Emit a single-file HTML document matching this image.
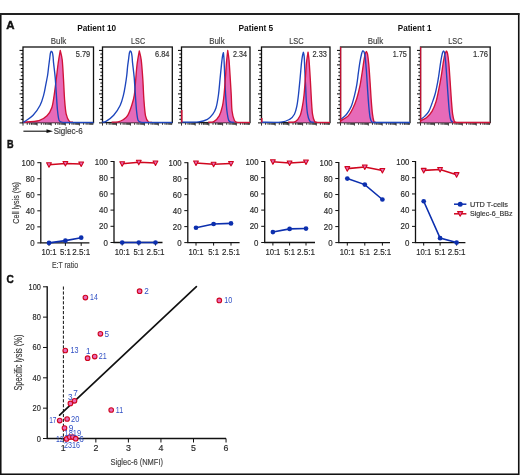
<!DOCTYPE html>
<html><head><meta charset="utf-8"><style>
html,body{margin:0;padding:0;background:#fff;}
body{width:520px;height:475px;overflow:hidden;}
svg{display:block;font-family:"Liberation Sans", sans-serif;will-change:transform;}
</style></head><body>
<svg width="520" height="475" viewBox="0 0 520 475">
<rect x="0.75" y="14" width="518" height="460.25" fill="none" stroke="#111" stroke-width="1.6"/>
<line x1="0" y1="14" x2="519.5" y2="14" stroke="#222" stroke-width="2"/>
<text x="6.3" y="29.1" font-size="11.8" text-anchor="start" fill="#111" font-weight="bold" textLength="8.3" lengthAdjust="spacingAndGlyphs" stroke="#111" stroke-width="0.45">A</text>
<text x="6.9" y="147.6" font-size="11.4" text-anchor="start" fill="#111" font-weight="bold" textLength="6.6" lengthAdjust="spacingAndGlyphs" stroke="#111" stroke-width="0.45">B</text>
<text x="6.4" y="282.5" font-size="11.8" text-anchor="start" fill="#111" font-weight="bold" textLength="7.3" lengthAdjust="spacingAndGlyphs" stroke="#111" stroke-width="0.45">C</text>
<text x="77.2" y="31.3" font-size="8.3" text-anchor="start" fill="#111" font-weight="bold" textLength="38.9" lengthAdjust="spacingAndGlyphs">Patient 10</text>
<text x="238.5" y="31.3" font-size="8.3" text-anchor="start" fill="#111" font-weight="bold" textLength="34.7" lengthAdjust="spacingAndGlyphs">Patient 5</text>
<text x="397.8" y="31.3" font-size="8.3" text-anchor="start" fill="#111" font-weight="bold" textLength="33.6" lengthAdjust="spacingAndGlyphs">Patient 1</text>
<text x="50.8" y="43.9" font-size="8.9" text-anchor="start" fill="#444" font-weight="normal" textLength="15.4" lengthAdjust="spacingAndGlyphs" stroke="#444" stroke-width="0.18">Bulk</text>
<text x="131.1" y="43.9" font-size="8.9" text-anchor="start" fill="#444" font-weight="normal" textLength="14.0" lengthAdjust="spacingAndGlyphs" stroke="#444" stroke-width="0.18">LSC</text>
<text x="209.2" y="43.9" font-size="8.9" text-anchor="start" fill="#444" font-weight="normal" textLength="15.4" lengthAdjust="spacingAndGlyphs" stroke="#444" stroke-width="0.18">Bulk</text>
<text x="289.2" y="43.9" font-size="8.9" text-anchor="start" fill="#444" font-weight="normal" textLength="14.5" lengthAdjust="spacingAndGlyphs" stroke="#444" stroke-width="0.18">LSC</text>
<text x="367.7" y="43.9" font-size="8.9" text-anchor="start" fill="#444" font-weight="normal" textLength="15.4" lengthAdjust="spacingAndGlyphs" stroke="#444" stroke-width="0.18">Bulk</text>
<text x="448.3" y="43.9" font-size="8.9" text-anchor="start" fill="#444" font-weight="normal" textLength="14.2" lengthAdjust="spacingAndGlyphs" stroke="#444" stroke-width="0.18">LSC</text>
<rect x="23" y="47.0" width="70.5" height="75.6" fill="none" stroke="#111" stroke-width="1.3"/>
<path d="M19.50,50.40H23M20.80,54.02H23M20.80,57.65H23M20.80,61.27H23M19.50,64.90H23M20.80,68.53H23M20.80,72.15H23M20.80,75.78H23M19.50,79.40H23M20.80,83.03H23M20.80,86.65H23M20.80,90.28H23M19.50,93.90H23M20.80,97.53H23M20.80,101.15H23M20.80,104.78H23M19.50,108.40H23M20.80,112.03H23M20.80,115.65H23M20.80,119.28H23M19.50,122.90H23" stroke="#000" stroke-width="1.0" fill="none"/>
<path d="M23.00,122.6V125.60M27.24,122.6V124.80M29.73,122.6V124.80M31.49,122.6V124.80M32.86,122.6V124.80M33.97,122.6V124.80M34.92,122.6V124.80M35.73,122.6V124.80M36.45,122.6V124.80M37.10,122.6V125.60M41.34,122.6V124.80M43.83,122.6V124.80M45.59,122.6V124.80M46.96,122.6V124.80M48.07,122.6V124.80M49.02,122.6V124.80M49.83,122.6V124.80M50.55,122.6V124.80M51.20,122.6V125.60M55.44,122.6V124.80M57.93,122.6V124.80M59.69,122.6V124.80M61.06,122.6V124.80M62.17,122.6V124.80M63.12,122.6V124.80M63.93,122.6V124.80M64.65,122.6V124.80M65.30,122.6V125.60M69.54,122.6V124.80M72.03,122.6V124.80M73.79,122.6V124.80M75.16,122.6V124.80M76.27,122.6V124.80M77.22,122.6V124.80M78.03,122.6V124.80M78.75,122.6V124.80M79.40,122.6V125.60M83.64,122.6V124.80M86.13,122.6V124.80M87.89,122.6V124.80M89.26,122.6V124.80M90.37,122.6V124.80M91.32,122.6V124.80M92.13,122.6V124.80M92.85,122.6V124.80" stroke="#333" stroke-width="1.0" fill="none"/>
<path d="M23.00,122.20 C25.67,121.93 35.00,121.67 39.00,120.60 C43.00,119.53 44.87,117.93 47.00,115.80 C49.13,113.67 50.60,111.27 51.80,107.80 C53.00,104.33 53.45,99.80 54.20,95.00 C54.95,90.20 55.61,84.33 56.28,79.00 C56.95,73.67 57.53,67.75 58.20,63.00 C58.87,58.25 59.93,52.60 60.28,50.52 C60.60,52.07 61.67,55.05 62.20,59.80 C62.73,64.55 63.08,72.33 63.48,79.00 C63.88,85.67 64.15,93.93 64.60,99.80 C65.05,105.67 65.40,110.60 66.20,114.20 C67.00,117.80 68.28,120.07 69.40,121.40 C70.52,122.73 72.33,122.07 72.92,122.20 L72.92,122.5 L23.00,122.5 Z" fill="#e76ab8" stroke="none"/>
<path d="M23.00,122.20 C25.67,121.93 35.00,121.67 39.00,120.60 C43.00,119.53 44.87,117.93 47.00,115.80 C49.13,113.67 50.60,111.27 51.80,107.80 C53.00,104.33 53.45,99.80 54.20,95.00 C54.95,90.20 55.61,84.33 56.28,79.00 C56.95,73.67 57.53,67.75 58.20,63.00 C58.87,58.25 59.93,52.60 60.28,50.52 C60.60,52.07 61.67,55.05 62.20,59.80 C62.73,64.55 63.08,72.33 63.48,79.00 C63.88,85.67 64.15,93.93 64.60,99.80 C65.05,105.67 65.40,110.60 66.20,114.20 C67.00,117.80 68.28,120.07 69.40,121.40 C70.52,122.73 72.33,122.07 72.92,122.20" fill="none" stroke="#d01238" stroke-width="1.35" stroke-linejoin="round"/>
<path d="M23.00,122.20 C23.32,122.07 23.24,122.55 24.92,121.40 C26.60,120.25 30.55,118.01 33.08,115.32 C35.61,112.63 38.36,108.60 40.12,105.24 C41.88,101.88 42.71,98.52 43.64,95.16 C44.57,91.80 45.05,88.44 45.72,85.08 C46.39,81.72 47.16,78.01 47.64,75.00 C48.12,71.99 48.28,69.56 48.60,67.00 C48.92,64.44 49.27,61.91 49.56,59.64 C49.85,57.37 50.09,54.79 50.36,53.40 C50.63,52.01 51.03,51.67 51.16,51.32 C51.35,51.48 51.96,51.40 52.28,52.28 C52.60,53.16 52.87,54.84 53.08,56.60 C53.29,58.36 53.21,59.43 53.56,62.84 C53.91,66.25 54.71,71.99 55.16,77.08 C55.61,82.17 55.88,87.75 56.28,93.40 C56.68,99.05 57.08,106.47 57.56,111.00 C58.04,115.53 58.39,118.73 59.16,120.60 C59.93,122.47 61.69,121.93 62.20,122.20" fill="none" stroke="#1d46bd" stroke-width="1.35" stroke-linejoin="round"/>
<line x1="62.20" y1="122.5" x2="93.5" y2="122.5" stroke="#1d46bd" stroke-width="1.35"/>
<text x="75.75" y="56.5" font-size="8.3" text-anchor="start" fill="#333" font-weight="normal" textLength="14.5" lengthAdjust="spacingAndGlyphs" stroke="#333" stroke-width="0.18">5.79</text>
<rect x="102.5" y="47.0" width="69.80000000000001" height="75.6" fill="none" stroke="#111" stroke-width="1.3"/>
<path d="M99.00,50.40H102.5M100.30,54.02H102.5M100.30,57.65H102.5M100.30,61.27H102.5M99.00,64.90H102.5M100.30,68.53H102.5M100.30,72.15H102.5M100.30,75.78H102.5M99.00,79.40H102.5M100.30,83.03H102.5M100.30,86.65H102.5M100.30,90.28H102.5M99.00,93.90H102.5M100.30,97.53H102.5M100.30,101.15H102.5M100.30,104.78H102.5M99.00,108.40H102.5M100.30,112.03H102.5M100.30,115.65H102.5M100.30,119.28H102.5M99.00,122.90H102.5" stroke="#000" stroke-width="1.0" fill="none"/>
<path d="M102.50,122.6V125.60M106.70,122.6V124.80M109.16,122.6V124.80M110.90,122.6V124.80M112.26,122.6V124.80M113.36,122.6V124.80M114.30,122.6V124.80M115.11,122.6V124.80M115.82,122.6V124.80M116.46,122.6V125.60M120.66,122.6V124.80M123.12,122.6V124.80M124.86,122.6V124.80M126.22,122.6V124.80M127.32,122.6V124.80M128.26,122.6V124.80M129.07,122.6V124.80M129.78,122.6V124.80M130.42,122.6V125.60M134.62,122.6V124.80M137.08,122.6V124.80M138.82,122.6V124.80M140.18,122.6V124.80M141.28,122.6V124.80M142.22,122.6V124.80M143.03,122.6V124.80M143.74,122.6V124.80M144.38,122.6V125.60M148.58,122.6V124.80M151.04,122.6V124.80M152.78,122.6V124.80M154.14,122.6V124.80M155.24,122.6V124.80M156.18,122.6V124.80M156.99,122.6V124.80M157.70,122.6V124.80M158.34,122.6V125.60M162.54,122.6V124.80M165.00,122.6V124.80M166.74,122.6V124.80M168.10,122.6V124.80M169.20,122.6V124.80M170.14,122.6V124.80M170.95,122.6V124.80M171.66,122.6V124.80" stroke="#333" stroke-width="1.0" fill="none"/>
<path d="M111.60,122.20 C112.67,122.15 116.08,122.28 118.00,121.88 C119.92,121.48 121.49,120.89 123.12,119.80 C124.75,118.71 126.32,117.75 127.76,115.32 C129.20,112.89 130.67,108.60 131.76,105.24 C132.85,101.88 133.65,99.53 134.32,95.16 C134.99,90.79 135.31,84.09 135.76,79.00 C136.21,73.91 136.45,69.27 137.04,64.60 C137.63,59.93 138.91,53.27 139.28,51.00 C139.60,52.47 140.61,55.13 141.20,59.80 C141.79,64.47 142.35,72.33 142.80,79.00 C143.25,85.67 143.47,93.67 143.92,99.80 C144.37,105.93 144.77,112.12 145.52,115.80 C146.27,119.48 147.39,120.81 148.40,121.88 C149.41,122.95 151.07,122.15 151.60,122.20 L151.60,122.5 L111.60,122.5 Z" fill="#e76ab8" stroke="none"/>
<path d="M111.60,122.20 C112.67,122.15 116.08,122.28 118.00,121.88 C119.92,121.48 121.49,120.89 123.12,119.80 C124.75,118.71 126.32,117.75 127.76,115.32 C129.20,112.89 130.67,108.60 131.76,105.24 C132.85,101.88 133.65,99.53 134.32,95.16 C134.99,90.79 135.31,84.09 135.76,79.00 C136.21,73.91 136.45,69.27 137.04,64.60 C137.63,59.93 138.91,53.27 139.28,51.00 C139.60,52.47 140.61,55.13 141.20,59.80 C141.79,64.47 142.35,72.33 142.80,79.00 C143.25,85.67 143.47,93.67 143.92,99.80 C144.37,105.93 144.77,112.12 145.52,115.80 C146.27,119.48 147.39,120.81 148.40,121.88 C149.41,122.95 151.07,122.15 151.60,122.20" fill="none" stroke="#d01238" stroke-width="1.35" stroke-linejoin="round"/>
<path d="M102.00,122.20 C102.67,122.07 104.05,122.55 106.00,121.40 C107.95,120.25 111.31,118.01 113.68,115.32 C116.05,112.63 118.61,108.60 120.24,105.24 C121.87,101.88 122.59,98.52 123.44,95.16 C124.29,91.80 124.80,88.44 125.36,85.08 C125.92,81.72 126.43,78.09 126.80,75.00 C127.17,71.91 127.31,69.13 127.60,66.52 C127.89,63.91 128.27,61.56 128.56,59.32 C128.85,57.08 129.09,54.47 129.36,53.08 C129.63,51.69 130.03,51.35 130.16,51.00 C130.35,51.19 130.96,51.19 131.28,52.12 C131.60,53.05 131.87,54.81 132.08,56.60 C132.29,58.39 132.21,59.43 132.56,62.84 C132.91,66.25 133.71,71.99 134.16,77.08 C134.61,82.17 134.88,87.75 135.28,93.40 C135.68,99.05 136.08,106.47 136.56,111.00 C137.04,115.53 137.39,118.73 138.16,120.60 C138.93,122.47 140.69,121.93 141.20,122.20" fill="none" stroke="#1d46bd" stroke-width="1.35" stroke-linejoin="round"/>
<line x1="141.20" y1="122.5" x2="172.3" y2="122.5" stroke="#1d46bd" stroke-width="1.35"/>
<text x="155.1" y="56.5" font-size="8.3" text-anchor="start" fill="#333" font-weight="normal" textLength="14.4" lengthAdjust="spacingAndGlyphs" stroke="#333" stroke-width="0.18">6.84</text>
<rect x="181.5" y="47.0" width="68.5" height="75.6" fill="none" stroke="#111" stroke-width="1.3"/>
<path d="M178.00,50.40H181.5M179.30,54.02H181.5M179.30,57.65H181.5M179.30,61.27H181.5M178.00,64.90H181.5M179.30,68.53H181.5M179.30,72.15H181.5M179.30,75.78H181.5M178.00,79.40H181.5M179.30,83.03H181.5M179.30,86.65H181.5M179.30,90.28H181.5M178.00,93.90H181.5M179.30,97.53H181.5M179.30,101.15H181.5M179.30,104.78H181.5M178.00,108.40H181.5M179.30,112.03H181.5M179.30,115.65H181.5M179.30,119.28H181.5M178.00,122.90H181.5" stroke="#000" stroke-width="1.0" fill="none"/>
<path d="M181.50,122.6V125.60M185.62,122.6V124.80M188.04,122.6V124.80M189.75,122.6V124.80M191.08,122.6V124.80M192.16,122.6V124.80M193.08,122.6V124.80M193.87,122.6V124.80M194.57,122.6V124.80M195.20,122.6V125.60M199.32,122.6V124.80M201.74,122.6V124.80M203.45,122.6V124.80M204.78,122.6V124.80M205.86,122.6V124.80M206.78,122.6V124.80M207.57,122.6V124.80M208.27,122.6V124.80M208.90,122.6V125.60M213.02,122.6V124.80M215.44,122.6V124.80M217.15,122.6V124.80M218.48,122.6V124.80M219.56,122.6V124.80M220.48,122.6V124.80M221.27,122.6V124.80M221.97,122.6V124.80M222.60,122.6V125.60M226.72,122.6V124.80M229.14,122.6V124.80M230.85,122.6V124.80M232.18,122.6V124.80M233.26,122.6V124.80M234.18,122.6V124.80M234.97,122.6V124.80M235.67,122.6V124.80M236.30,122.6V125.60M240.42,122.6V124.80M242.84,122.6V124.80M244.55,122.6V124.80M245.88,122.6V124.80M246.96,122.6V124.80M247.88,122.6V124.80M248.67,122.6V124.80M249.37,122.6V124.80" stroke="#333" stroke-width="1.0" fill="none"/>
<path d="M208.20,122.20 C209.13,122.09 211.96,122.63 213.80,121.56 C215.64,120.49 217.80,118.36 219.24,115.80 C220.68,113.24 221.64,109.67 222.44,106.20 C223.24,102.73 223.56,99.53 224.04,95.00 C224.52,90.47 224.92,84.33 225.32,79.00 C225.72,73.67 226.04,67.75 226.44,63.00 C226.84,58.25 227.51,52.60 227.72,50.52 C227.93,52.07 228.57,55.05 229.00,59.80 C229.43,64.55 229.91,73.13 230.28,79.00 C230.65,84.87 230.95,89.67 231.24,95.00 C231.53,100.33 231.51,106.73 232.04,111.00 C232.57,115.27 233.61,118.73 234.44,120.60 C235.27,122.47 236.57,121.93 237.00,122.20 L237.00,122.5 L208.20,122.5 Z" fill="#e76ab8" stroke="none"/>
<path d="M181.00,122.20 C183.93,122.15 194.20,122.36 198.60,121.88 C203.00,121.40 205.03,120.60 207.40,119.32 C209.77,118.04 211.40,116.12 212.84,114.20 C214.28,112.28 215.11,111.00 216.04,107.80 C216.97,104.60 217.77,99.80 218.44,95.00 C219.11,90.20 219.53,84.07 220.04,79.00 C220.55,73.93 221.08,68.33 221.48,64.60 C221.88,60.87 222.12,58.60 222.44,56.60 C222.76,54.60 223.24,53.27 223.40,52.60 C223.51,53.80 223.80,55.40 224.04,59.80 C224.28,64.20 224.57,73.13 224.84,79.00 C225.11,84.87 225.29,89.67 225.64,95.00 C225.99,100.33 226.39,106.73 226.92,111.00 C227.45,115.27 227.99,118.73 228.84,120.60 C229.69,122.47 231.21,121.93 232.04,122.20 C232.87,122.47 233.51,122.20 233.80,122.20" fill="none" stroke="#1d46bd" stroke-width="1.35" stroke-linejoin="round"/>
<path d="M208.20,122.20 C209.13,122.09 211.96,122.63 213.80,121.56 C215.64,120.49 217.80,118.36 219.24,115.80 C220.68,113.24 221.64,109.67 222.44,106.20 C223.24,102.73 223.56,99.53 224.04,95.00 C224.52,90.47 224.92,84.33 225.32,79.00 C225.72,73.67 226.04,67.75 226.44,63.00 C226.84,58.25 227.51,52.60 227.72,50.52 C227.93,52.07 228.57,55.05 229.00,59.80 C229.43,64.55 229.91,73.13 230.28,79.00 C230.65,84.87 230.95,89.67 231.24,95.00 C231.53,100.33 231.51,106.73 232.04,111.00 C232.57,115.27 233.61,118.73 234.44,120.60 C235.27,122.47 236.57,121.93 237.00,122.20" fill="none" stroke="#d01238" stroke-width="1.35" stroke-linejoin="round"/>
<line x1="237.00" y1="122.5" x2="250" y2="122.5" stroke="#d01238" stroke-width="1.35"/>
<line x1="181.8" y1="110" x2="181.8" y2="122.5" stroke="#d01238" stroke-width="1.5"/>
<text x="233" y="56.5" font-size="8.3" text-anchor="start" fill="#333" font-weight="normal" textLength="13.9" lengthAdjust="spacingAndGlyphs" stroke="#333" stroke-width="0.18">2.34</text>
<rect x="261.5" y="47.0" width="68.5" height="75.6" fill="none" stroke="#111" stroke-width="1.3"/>
<path d="M258.00,50.40H261.5M259.30,54.02H261.5M259.30,57.65H261.5M259.30,61.27H261.5M258.00,64.90H261.5M259.30,68.53H261.5M259.30,72.15H261.5M259.30,75.78H261.5M258.00,79.40H261.5M259.30,83.03H261.5M259.30,86.65H261.5M259.30,90.28H261.5M258.00,93.90H261.5M259.30,97.53H261.5M259.30,101.15H261.5M259.30,104.78H261.5M258.00,108.40H261.5M259.30,112.03H261.5M259.30,115.65H261.5M259.30,119.28H261.5M258.00,122.90H261.5" stroke="#000" stroke-width="1.0" fill="none"/>
<path d="M261.50,122.6V125.60M265.62,122.6V124.80M268.04,122.6V124.80M269.75,122.6V124.80M271.08,122.6V124.80M272.16,122.6V124.80M273.08,122.6V124.80M273.87,122.6V124.80M274.57,122.6V124.80M275.20,122.6V125.60M279.32,122.6V124.80M281.74,122.6V124.80M283.45,122.6V124.80M284.78,122.6V124.80M285.86,122.6V124.80M286.78,122.6V124.80M287.57,122.6V124.80M288.27,122.6V124.80M288.90,122.6V125.60M293.02,122.6V124.80M295.44,122.6V124.80M297.15,122.6V124.80M298.48,122.6V124.80M299.56,122.6V124.80M300.48,122.6V124.80M301.27,122.6V124.80M301.97,122.6V124.80M302.60,122.6V125.60M306.72,122.6V124.80M309.14,122.6V124.80M310.85,122.6V124.80M312.18,122.6V124.80M313.26,122.6V124.80M314.18,122.6V124.80M314.97,122.6V124.80M315.67,122.6V124.80M316.30,122.6V125.60M320.42,122.6V124.80M322.84,122.6V124.80M324.55,122.6V124.80M325.88,122.6V124.80M326.96,122.6V124.80M327.88,122.6V124.80M328.67,122.6V124.80M329.37,122.6V124.80" stroke="#333" stroke-width="1.0" fill="none"/>
<path d="M288.20,122.20 C289.40,122.09 293.43,122.63 295.40,121.56 C297.37,120.49 298.87,118.36 300.04,115.80 C301.21,113.24 301.77,109.67 302.44,106.20 C303.11,102.73 303.56,99.53 304.04,95.00 C304.52,90.47 304.92,84.33 305.32,79.00 C305.72,73.67 305.99,67.48 306.44,63.00 C306.89,58.52 307.77,53.93 308.04,52.12 C308.20,53.40 308.63,55.32 309.00,59.80 C309.37,64.28 309.88,72.33 310.28,79.00 C310.68,85.67 311.03,93.93 311.40,99.80 C311.77,105.67 311.99,110.60 312.52,114.20 C313.05,117.80 313.85,120.07 314.60,121.40 C315.35,122.73 316.60,122.07 317.00,122.20 L317.00,122.5 L288.20,122.5 Z" fill="#e76ab8" stroke="none"/>
<path d="M261.00,122.20 C264.33,122.20 276.23,122.68 281.00,122.20 C285.77,121.72 287.40,120.65 289.64,119.32 C291.88,117.99 293.24,116.39 294.44,114.20 C295.64,112.01 296.17,109.40 296.84,106.20 C297.51,103.00 297.91,99.53 298.44,95.00 C298.97,90.47 299.53,84.33 300.04,79.00 C300.55,73.67 301.08,66.87 301.48,63.00 C301.88,59.13 302.12,57.59 302.44,55.80 C302.76,54.01 303.24,52.87 303.40,52.28 C303.53,53.00 303.96,53.48 304.20,56.60 C304.44,59.72 304.60,65.93 304.84,71.00 C305.08,76.07 305.37,81.67 305.64,87.00 C305.91,92.33 306.12,98.47 306.44,103.00 C306.76,107.53 307.03,111.21 307.56,114.20 C308.09,117.19 308.87,119.59 309.64,120.92 C310.41,122.25 311.51,121.99 312.20,122.20 C312.89,122.41 313.53,122.20 313.80,122.20" fill="none" stroke="#1d46bd" stroke-width="1.35" stroke-linejoin="round"/>
<path d="M288.20,122.20 C289.40,122.09 293.43,122.63 295.40,121.56 C297.37,120.49 298.87,118.36 300.04,115.80 C301.21,113.24 301.77,109.67 302.44,106.20 C303.11,102.73 303.56,99.53 304.04,95.00 C304.52,90.47 304.92,84.33 305.32,79.00 C305.72,73.67 305.99,67.48 306.44,63.00 C306.89,58.52 307.77,53.93 308.04,52.12 C308.20,53.40 308.63,55.32 309.00,59.80 C309.37,64.28 309.88,72.33 310.28,79.00 C310.68,85.67 311.03,93.93 311.40,99.80 C311.77,105.67 311.99,110.60 312.52,114.20 C313.05,117.80 313.85,120.07 314.60,121.40 C315.35,122.73 316.60,122.07 317.00,122.20" fill="none" stroke="#d01238" stroke-width="1.35" stroke-linejoin="round"/>
<line x1="317.00" y1="122.5" x2="330" y2="122.5" stroke="#d01238" stroke-width="1.35"/>
<line x1="261.8" y1="118" x2="261.8" y2="122.5" stroke="#d01238" stroke-width="1.5"/>
<text x="312.5" y="56.5" font-size="8.3" text-anchor="start" fill="#333" font-weight="normal" textLength="14.4" lengthAdjust="spacingAndGlyphs" stroke="#333" stroke-width="0.18">2.33</text>
<rect x="340.5" y="47.0" width="69.5" height="75.6" fill="none" stroke="#111" stroke-width="1.3"/>
<path d="M337.00,50.40H340.5M338.30,54.02H340.5M338.30,57.65H340.5M338.30,61.27H340.5M337.00,64.90H340.5M338.30,68.53H340.5M338.30,72.15H340.5M338.30,75.78H340.5M337.00,79.40H340.5M338.30,83.03H340.5M338.30,86.65H340.5M338.30,90.28H340.5M337.00,93.90H340.5M338.30,97.53H340.5M338.30,101.15H340.5M338.30,104.78H340.5M337.00,108.40H340.5M338.30,112.03H340.5M338.30,115.65H340.5M338.30,119.28H340.5M337.00,122.90H340.5" stroke="#000" stroke-width="1.0" fill="none"/>
<path d="M340.50,122.6V125.60M344.68,122.6V124.80M347.13,122.6V124.80M348.87,122.6V124.80M350.22,122.6V124.80M351.32,122.6V124.80M352.25,122.6V124.80M353.05,122.6V124.80M353.76,122.6V124.80M354.40,122.6V125.60M358.58,122.6V124.80M361.03,122.6V124.80M362.77,122.6V124.80M364.12,122.6V124.80M365.22,122.6V124.80M366.15,122.6V124.80M366.95,122.6V124.80M367.66,122.6V124.80M368.30,122.6V125.60M372.48,122.6V124.80M374.93,122.6V124.80M376.67,122.6V124.80M378.02,122.6V124.80M379.12,122.6V124.80M380.05,122.6V124.80M380.85,122.6V124.80M381.56,122.6V124.80M382.20,122.6V125.60M386.38,122.6V124.80M388.83,122.6V124.80M390.57,122.6V124.80M391.92,122.6V124.80M393.02,122.6V124.80M393.95,122.6V124.80M394.75,122.6V124.80M395.46,122.6V124.80M396.10,122.6V125.60M400.28,122.6V124.80M402.73,122.6V124.80M404.47,122.6V124.80M405.82,122.6V124.80M406.92,122.6V124.80M407.85,122.6V124.80M408.65,122.6V124.80M409.36,122.6V124.80" stroke="#333" stroke-width="1.0" fill="none"/>
<path d="M340.80,120.60 C342.00,119.85 346.00,118.15 348.00,116.12 C350.00,114.09 351.33,111.37 352.80,108.44 C354.27,105.51 355.60,102.31 356.80,98.52 C358.00,94.73 359.07,90.31 360.00,85.72 C360.93,81.13 361.73,75.27 362.40,71.00 C363.07,66.73 363.52,63.00 364.00,60.12 C364.48,57.24 364.88,55.16 365.28,53.72 C365.68,52.28 366.21,51.85 366.40,51.48 C366.59,51.93 367.12,52.01 367.52,54.20 C367.92,56.39 368.37,59.93 368.80,64.60 C369.23,69.27 369.68,76.33 370.08,82.20 C370.48,88.07 370.80,94.47 371.20,99.80 C371.60,105.13 372.03,110.60 372.48,114.20 C372.93,117.80 373.41,120.07 373.92,121.40 C374.43,122.73 375.25,122.07 375.52,122.20 L375.52,122.5 L340.80,122.5 Z" fill="#e76ab8" stroke="none"/>
<path d="M340.80,120.60 C342.00,119.85 346.00,118.15 348.00,116.12 C350.00,114.09 351.33,111.37 352.80,108.44 C354.27,105.51 355.60,102.31 356.80,98.52 C358.00,94.73 359.07,90.31 360.00,85.72 C360.93,81.13 361.73,75.27 362.40,71.00 C363.07,66.73 363.52,63.00 364.00,60.12 C364.48,57.24 364.88,55.16 365.28,53.72 C365.68,52.28 366.21,51.85 366.40,51.48 C366.59,51.93 367.12,52.01 367.52,54.20 C367.92,56.39 368.37,59.93 368.80,64.60 C369.23,69.27 369.68,76.33 370.08,82.20 C370.48,88.07 370.80,94.47 371.20,99.80 C371.60,105.13 372.03,110.60 372.48,114.20 C372.93,117.80 373.41,120.07 373.92,121.40 C374.43,122.73 375.25,122.07 375.52,122.20" fill="none" stroke="#d01238" stroke-width="1.35" stroke-linejoin="round"/>
<path d="M340.80,119.32 C341.73,118.52 344.67,116.65 346.40,114.52 C348.13,112.39 349.87,109.64 351.20,106.52 C352.53,103.40 353.47,99.45 354.40,95.80 C355.33,92.15 356.13,88.47 356.80,84.60 C357.47,80.73 357.87,76.41 358.40,72.60 C358.93,68.79 359.47,64.87 360.00,61.72 C360.53,58.57 361.15,55.53 361.60,53.72 C362.05,51.91 362.53,51.32 362.72,50.84 C362.93,51.00 363.60,50.84 364.00,51.80 C364.40,52.76 364.72,53.40 365.12,56.60 C365.52,59.80 366.00,65.67 366.40,71.00 C366.80,76.33 367.12,82.73 367.52,88.60 C367.92,94.47 368.37,101.40 368.80,106.20 C369.23,111.00 369.60,114.79 370.08,117.40 C370.56,120.01 371.09,121.08 371.68,121.88 C372.27,122.68 373.28,122.15 373.60,122.20" fill="none" stroke="#1d46bd" stroke-width="1.35" stroke-linejoin="round"/>
<line x1="373.60" y1="122.5" x2="410" y2="122.5" stroke="#1d46bd" stroke-width="1.35"/>
<line x1="340.7" y1="47.0" x2="340.7" y2="122.5" stroke="#d01238" stroke-width="1.2"/>
<text x="392.8" y="56.5" font-size="8.3" text-anchor="start" fill="#333" font-weight="normal" textLength="14.1" lengthAdjust="spacingAndGlyphs" stroke="#333" stroke-width="0.18">1.75</text>
<rect x="420.5" y="47.0" width="69.69999999999999" height="75.6" fill="none" stroke="#111" stroke-width="1.3"/>
<path d="M417.00,50.40H420.5M418.30,54.02H420.5M418.30,57.65H420.5M418.30,61.27H420.5M417.00,64.90H420.5M418.30,68.53H420.5M418.30,72.15H420.5M418.30,75.78H420.5M417.00,79.40H420.5M418.30,83.03H420.5M418.30,86.65H420.5M418.30,90.28H420.5M417.00,93.90H420.5M418.30,97.53H420.5M418.30,101.15H420.5M418.30,104.78H420.5M417.00,108.40H420.5M418.30,112.03H420.5M418.30,115.65H420.5M418.30,119.28H420.5M417.00,122.90H420.5" stroke="#000" stroke-width="1.0" fill="none"/>
<path d="M420.50,122.6V125.60M424.70,122.6V124.80M427.15,122.6V124.80M428.89,122.6V124.80M430.24,122.6V124.80M431.35,122.6V124.80M432.28,122.6V124.80M433.09,122.6V124.80M433.80,122.6V124.80M434.44,122.6V125.60M438.64,122.6V124.80M441.09,122.6V124.80M442.83,122.6V124.80M444.18,122.6V124.80M445.29,122.6V124.80M446.22,122.6V124.80M447.03,122.6V124.80M447.74,122.6V124.80M448.38,122.6V125.60M452.58,122.6V124.80M455.03,122.6V124.80M456.77,122.6V124.80M458.12,122.6V124.80M459.23,122.6V124.80M460.16,122.6V124.80M460.97,122.6V124.80M461.68,122.6V124.80M462.32,122.6V125.60M466.52,122.6V124.80M468.97,122.6V124.80M470.71,122.6V124.80M472.06,122.6V124.80M473.17,122.6V124.80M474.10,122.6V124.80M474.91,122.6V124.80M475.62,122.6V124.80M476.26,122.6V125.60M480.46,122.6V124.80M482.91,122.6V124.80M484.65,122.6V124.80M486.00,122.6V124.80M487.11,122.6V124.80M488.04,122.6V124.80M488.85,122.6V124.80M489.56,122.6V124.80" stroke="#333" stroke-width="1.0" fill="none"/>
<path d="M420.80,120.60 C421.73,120.12 424.53,119.27 426.40,117.72 C428.27,116.17 430.40,113.99 432.00,111.32 C433.60,108.65 434.85,105.45 436.00,101.72 C437.15,97.99 438.00,93.24 438.88,88.92 C439.76,84.60 440.56,80.12 441.28,75.80 C442.00,71.48 442.61,66.52 443.20,63.00 C443.79,59.48 444.27,56.68 444.80,54.68 C445.33,52.68 446.13,51.61 446.40,51.00 C446.59,51.40 447.12,51.40 447.52,53.40 C447.92,55.40 448.37,58.47 448.80,63.00 C449.23,67.53 449.65,74.47 450.08,80.60 C450.51,86.73 450.93,94.20 451.36,99.80 C451.79,105.40 452.13,110.60 452.64,114.20 C453.15,117.80 453.84,120.07 454.40,121.40 C454.96,122.73 455.73,122.07 456.00,122.20 L456.00,122.5 L420.80,122.5 Z" fill="#e76ab8" stroke="none"/>
<path d="M420.80,120.60 C421.73,120.12 424.53,119.27 426.40,117.72 C428.27,116.17 430.40,113.99 432.00,111.32 C433.60,108.65 434.85,105.45 436.00,101.72 C437.15,97.99 438.00,93.24 438.88,88.92 C439.76,84.60 440.56,80.12 441.28,75.80 C442.00,71.48 442.61,66.52 443.20,63.00 C443.79,59.48 444.27,56.68 444.80,54.68 C445.33,52.68 446.13,51.61 446.40,51.00 C446.59,51.40 447.12,51.40 447.52,53.40 C447.92,55.40 448.37,58.47 448.80,63.00 C449.23,67.53 449.65,74.47 450.08,80.60 C450.51,86.73 450.93,94.20 451.36,99.80 C451.79,105.40 452.13,110.60 452.64,114.20 C453.15,117.80 453.84,120.07 454.40,121.40 C454.96,122.73 455.73,122.07 456.00,122.20" fill="none" stroke="#d01238" stroke-width="1.35" stroke-linejoin="round"/>
<path d="M420.80,119.32 C421.47,118.79 423.47,117.45 424.80,116.12 C426.13,114.79 427.60,113.45 428.80,111.32 C430.00,109.19 430.93,106.25 432.00,103.32 C433.07,100.39 434.27,97.19 435.20,93.72 C436.13,90.25 436.93,86.04 437.60,82.52 C438.27,79.00 438.67,76.12 439.20,72.60 C439.73,69.08 440.27,64.65 440.80,61.40 C441.33,58.15 441.95,54.81 442.40,53.08 C442.85,51.35 443.33,51.35 443.52,51.00 C443.68,51.27 444.13,50.87 444.48,52.60 C444.83,54.33 445.20,57.00 445.60,61.40 C446.00,65.80 446.48,73.40 446.88,79.00 C447.28,84.60 447.60,89.67 448.00,95.00 C448.40,100.33 448.83,106.87 449.28,111.00 C449.73,115.13 450.13,117.93 450.72,119.80 C451.31,121.67 452.45,121.80 452.80,122.20" fill="none" stroke="#1d46bd" stroke-width="1.35" stroke-linejoin="round"/>
<line x1="452.80" y1="122.5" x2="490.2" y2="122.5" stroke="#d01238" stroke-width="1.35"/>
<line x1="420.7" y1="47.0" x2="420.7" y2="122.5" stroke="#d01238" stroke-width="1.2"/>
<text x="473" y="56.5" font-size="8.3" text-anchor="start" fill="#333" font-weight="normal" textLength="15" lengthAdjust="spacingAndGlyphs" stroke="#333" stroke-width="0.18">1.76</text>
<line x1="23.4" y1="131.2" x2="48" y2="131.2" stroke="#111" stroke-width="1.1"/>
<path d="M46.5,129.3 L53,131.2 L46.5,133.1 Z" fill="#111"/>
<text x="53.7" y="133.7" font-size="8.8" text-anchor="start" fill="#3a3a3a" font-weight="normal" textLength="28.9" lengthAdjust="spacingAndGlyphs" stroke="#3a3a3a" stroke-width="0.18">Siglec-6</text>
<path d="M40.8,162.2 V242.9 H89.4" fill="none" stroke="#111" stroke-width="1.3"/>
<path d="M37.3,242.90H40.8M37.3,226.86H40.8M37.3,210.82H40.8M37.3,194.78H40.8M37.3,178.74H40.8M37.3,162.70H40.8M49.00,242.9V245.9M65.40,242.9V245.9M81.20,242.9V245.9" stroke="#111" stroke-width="1" fill="none"/>
<text x="34.6" y="245.9" font-size="8.6" text-anchor="end" fill="#2a2a2a" font-weight="normal" textLength="4.4" lengthAdjust="spacingAndGlyphs" stroke="#2a2a2a" stroke-width="0.18">0</text>
<text x="34.6" y="229.86" font-size="8.6" text-anchor="end" fill="#2a2a2a" font-weight="normal" textLength="8.8" lengthAdjust="spacingAndGlyphs" stroke="#2a2a2a" stroke-width="0.18">20</text>
<text x="34.6" y="213.82" font-size="8.6" text-anchor="end" fill="#2a2a2a" font-weight="normal" textLength="8.8" lengthAdjust="spacingAndGlyphs" stroke="#2a2a2a" stroke-width="0.18">40</text>
<text x="34.6" y="197.78" font-size="8.6" text-anchor="end" fill="#2a2a2a" font-weight="normal" textLength="8.8" lengthAdjust="spacingAndGlyphs" stroke="#2a2a2a" stroke-width="0.18">60</text>
<text x="34.6" y="181.74" font-size="8.6" text-anchor="end" fill="#2a2a2a" font-weight="normal" textLength="8.8" lengthAdjust="spacingAndGlyphs" stroke="#2a2a2a" stroke-width="0.18">80</text>
<text x="34.6" y="165.7" font-size="8.6" text-anchor="end" fill="#2a2a2a" font-weight="normal" textLength="13.0" lengthAdjust="spacingAndGlyphs" stroke="#2a2a2a" stroke-width="0.18">100</text>
<text x="49.0" y="255.3" font-size="8.7" text-anchor="middle" fill="#2a2a2a" font-weight="normal" textLength="15.0" lengthAdjust="spacingAndGlyphs" stroke="#2a2a2a" stroke-width="0.18">10:1</text>
<text x="65.4" y="255.3" font-size="8.7" text-anchor="middle" fill="#2a2a2a" font-weight="normal" textLength="10.7" lengthAdjust="spacingAndGlyphs" stroke="#2a2a2a" stroke-width="0.18">5:1</text>
<text x="81.2" y="255.3" font-size="8.7" text-anchor="middle" fill="#2a2a2a" font-weight="normal" textLength="17.9" lengthAdjust="spacingAndGlyphs" stroke="#2a2a2a" stroke-width="0.18">2.5:1</text>
<polyline points="49.00,242.90 65.40,240.65 81.20,237.69" fill="none" stroke="#0c2fae" stroke-width="1.6"/>
<circle cx="49.00" cy="242.90" r="2.35" fill="#0c2fae"/>
<circle cx="65.40" cy="240.65" r="2.35" fill="#0c2fae"/>
<circle cx="81.20" cy="237.69" r="2.35" fill="#0c2fae"/>
<polyline points="49.00,164.79 65.40,163.50 81.20,163.98" fill="none" stroke="#d0061e" stroke-width="1.6"/>
<path d="M46.60,162.79 L51.40,162.79 L49.00,167.29 Z" fill="#e76ab8" stroke="#d0061e" stroke-width="1.1" stroke-linejoin="round"/>
<path d="M63.00,161.50 L67.80,161.50 L65.40,166.00 Z" fill="#e76ab8" stroke="#d0061e" stroke-width="1.1" stroke-linejoin="round"/>
<path d="M78.80,161.98 L83.60,161.98 L81.20,166.48 Z" fill="#e76ab8" stroke="#d0061e" stroke-width="1.1" stroke-linejoin="round"/>
<path d="M114.0,161.0 V242.5 H162.5" fill="none" stroke="#111" stroke-width="1.3"/>
<path d="M110.5,242.50H114.0M110.5,226.30H114.0M110.5,210.10H114.0M110.5,193.90H114.0M110.5,177.70H114.0M110.5,161.50H114.0M122.20,242.5V245.5M138.80,242.5V245.5M155.50,242.5V245.5" stroke="#111" stroke-width="1" fill="none"/>
<text x="107.8" y="245.5" font-size="8.6" text-anchor="end" fill="#2a2a2a" font-weight="normal" textLength="4.4" lengthAdjust="spacingAndGlyphs" stroke="#2a2a2a" stroke-width="0.18">0</text>
<text x="107.8" y="229.3" font-size="8.6" text-anchor="end" fill="#2a2a2a" font-weight="normal" textLength="8.8" lengthAdjust="spacingAndGlyphs" stroke="#2a2a2a" stroke-width="0.18">20</text>
<text x="107.8" y="213.1" font-size="8.6" text-anchor="end" fill="#2a2a2a" font-weight="normal" textLength="8.8" lengthAdjust="spacingAndGlyphs" stroke="#2a2a2a" stroke-width="0.18">40</text>
<text x="107.8" y="196.9" font-size="8.6" text-anchor="end" fill="#2a2a2a" font-weight="normal" textLength="8.8" lengthAdjust="spacingAndGlyphs" stroke="#2a2a2a" stroke-width="0.18">60</text>
<text x="107.8" y="180.7" font-size="8.6" text-anchor="end" fill="#2a2a2a" font-weight="normal" textLength="8.8" lengthAdjust="spacingAndGlyphs" stroke="#2a2a2a" stroke-width="0.18">80</text>
<text x="107.8" y="164.5" font-size="8.6" text-anchor="end" fill="#2a2a2a" font-weight="normal" textLength="13.0" lengthAdjust="spacingAndGlyphs" stroke="#2a2a2a" stroke-width="0.18">100</text>
<text x="122.2" y="255.3" font-size="8.7" text-anchor="middle" fill="#2a2a2a" font-weight="normal" textLength="15.0" lengthAdjust="spacingAndGlyphs" stroke="#2a2a2a" stroke-width="0.18">10:1</text>
<text x="138.8" y="255.3" font-size="8.7" text-anchor="middle" fill="#2a2a2a" font-weight="normal" textLength="10.7" lengthAdjust="spacingAndGlyphs" stroke="#2a2a2a" stroke-width="0.18">5:1</text>
<text x="155.5" y="255.3" font-size="8.7" text-anchor="middle" fill="#2a2a2a" font-weight="normal" textLength="17.9" lengthAdjust="spacingAndGlyphs" stroke="#2a2a2a" stroke-width="0.18">2.5:1</text>
<polyline points="122.20,242.50 138.80,242.50 155.50,242.50" fill="none" stroke="#0c2fae" stroke-width="1.6"/>
<circle cx="122.20" cy="242.50" r="2.35" fill="#0c2fae"/>
<circle cx="138.80" cy="242.50" r="2.35" fill="#0c2fae"/>
<circle cx="155.50" cy="242.50" r="2.35" fill="#0c2fae"/>
<polyline points="122.20,163.77 138.80,162.31 155.50,163.04" fill="none" stroke="#d0061e" stroke-width="1.6"/>
<path d="M119.80,161.77 L124.60,161.77 L122.20,166.27 Z" fill="#e76ab8" stroke="#d0061e" stroke-width="1.1" stroke-linejoin="round"/>
<path d="M136.40,160.31 L141.20,160.31 L138.80,164.81 Z" fill="#e76ab8" stroke="#d0061e" stroke-width="1.1" stroke-linejoin="round"/>
<path d="M153.10,161.04 L157.90,161.04 L155.50,165.54 Z" fill="#e76ab8" stroke="#d0061e" stroke-width="1.1" stroke-linejoin="round"/>
<path d="M187.8,162.2 V242.6 H239.6" fill="none" stroke="#111" stroke-width="1.3"/>
<path d="M184.3,242.60H187.8M184.3,226.62H187.8M184.3,210.64H187.8M184.3,194.66H187.8M184.3,178.68H187.8M184.3,162.70H187.8M196.00,242.6V245.6M213.60,242.6V245.6M231.00,242.6V245.6" stroke="#111" stroke-width="1" fill="none"/>
<text x="181.6" y="245.6" font-size="8.6" text-anchor="end" fill="#2a2a2a" font-weight="normal" textLength="4.4" lengthAdjust="spacingAndGlyphs" stroke="#2a2a2a" stroke-width="0.18">0</text>
<text x="181.6" y="229.62" font-size="8.6" text-anchor="end" fill="#2a2a2a" font-weight="normal" textLength="8.8" lengthAdjust="spacingAndGlyphs" stroke="#2a2a2a" stroke-width="0.18">20</text>
<text x="181.6" y="213.64" font-size="8.6" text-anchor="end" fill="#2a2a2a" font-weight="normal" textLength="8.8" lengthAdjust="spacingAndGlyphs" stroke="#2a2a2a" stroke-width="0.18">40</text>
<text x="181.6" y="197.66" font-size="8.6" text-anchor="end" fill="#2a2a2a" font-weight="normal" textLength="8.8" lengthAdjust="spacingAndGlyphs" stroke="#2a2a2a" stroke-width="0.18">60</text>
<text x="181.6" y="181.68" font-size="8.6" text-anchor="end" fill="#2a2a2a" font-weight="normal" textLength="8.8" lengthAdjust="spacingAndGlyphs" stroke="#2a2a2a" stroke-width="0.18">80</text>
<text x="181.6" y="165.7" font-size="8.6" text-anchor="end" fill="#2a2a2a" font-weight="normal" textLength="13.0" lengthAdjust="spacingAndGlyphs" stroke="#2a2a2a" stroke-width="0.18">100</text>
<text x="196.0" y="255.3" font-size="8.7" text-anchor="middle" fill="#2a2a2a" font-weight="normal" textLength="15.0" lengthAdjust="spacingAndGlyphs" stroke="#2a2a2a" stroke-width="0.18">10:1</text>
<text x="213.6" y="255.3" font-size="8.7" text-anchor="middle" fill="#2a2a2a" font-weight="normal" textLength="10.7" lengthAdjust="spacingAndGlyphs" stroke="#2a2a2a" stroke-width="0.18">5:1</text>
<text x="231.0" y="255.3" font-size="8.7" text-anchor="middle" fill="#2a2a2a" font-weight="normal" textLength="17.9" lengthAdjust="spacingAndGlyphs" stroke="#2a2a2a" stroke-width="0.18">2.5:1</text>
<polyline points="196.00,227.74 213.60,223.98 231.00,223.42" fill="none" stroke="#0c2fae" stroke-width="1.6"/>
<circle cx="196.00" cy="227.74" r="2.35" fill="#0c2fae"/>
<circle cx="213.60" cy="223.98" r="2.35" fill="#0c2fae"/>
<circle cx="231.00" cy="223.42" r="2.35" fill="#0c2fae"/>
<polyline points="196.00,163.02 213.60,164.22 231.00,163.50" fill="none" stroke="#d0061e" stroke-width="1.6"/>
<path d="M193.60,161.02 L198.40,161.02 L196.00,165.52 Z" fill="#e76ab8" stroke="#d0061e" stroke-width="1.1" stroke-linejoin="round"/>
<path d="M211.20,162.22 L216.00,162.22 L213.60,166.72 Z" fill="#e76ab8" stroke="#d0061e" stroke-width="1.1" stroke-linejoin="round"/>
<path d="M228.60,161.50 L233.40,161.50 L231.00,166.00 Z" fill="#e76ab8" stroke="#d0061e" stroke-width="1.1" stroke-linejoin="round"/>
<path d="M264.7,161.0 V242.5 H315.0" fill="none" stroke="#111" stroke-width="1.3"/>
<path d="M261.2,242.50H264.7M261.2,226.30H264.7M261.2,210.10H264.7M261.2,193.90H264.7M261.2,177.70H264.7M261.2,161.50H264.7M272.90,242.5V245.5M289.60,242.5V245.5M306.00,242.5V245.5" stroke="#111" stroke-width="1" fill="none"/>
<text x="258.5" y="245.5" font-size="8.6" text-anchor="end" fill="#2a2a2a" font-weight="normal" textLength="4.4" lengthAdjust="spacingAndGlyphs" stroke="#2a2a2a" stroke-width="0.18">0</text>
<text x="258.5" y="229.3" font-size="8.6" text-anchor="end" fill="#2a2a2a" font-weight="normal" textLength="8.8" lengthAdjust="spacingAndGlyphs" stroke="#2a2a2a" stroke-width="0.18">20</text>
<text x="258.5" y="213.1" font-size="8.6" text-anchor="end" fill="#2a2a2a" font-weight="normal" textLength="8.8" lengthAdjust="spacingAndGlyphs" stroke="#2a2a2a" stroke-width="0.18">40</text>
<text x="258.5" y="196.9" font-size="8.6" text-anchor="end" fill="#2a2a2a" font-weight="normal" textLength="8.8" lengthAdjust="spacingAndGlyphs" stroke="#2a2a2a" stroke-width="0.18">60</text>
<text x="258.5" y="180.7" font-size="8.6" text-anchor="end" fill="#2a2a2a" font-weight="normal" textLength="8.8" lengthAdjust="spacingAndGlyphs" stroke="#2a2a2a" stroke-width="0.18">80</text>
<text x="258.5" y="164.5" font-size="8.6" text-anchor="end" fill="#2a2a2a" font-weight="normal" textLength="13.0" lengthAdjust="spacingAndGlyphs" stroke="#2a2a2a" stroke-width="0.18">100</text>
<text x="272.9" y="255.3" font-size="8.7" text-anchor="middle" fill="#2a2a2a" font-weight="normal" textLength="15.0" lengthAdjust="spacingAndGlyphs" stroke="#2a2a2a" stroke-width="0.18">10:1</text>
<text x="289.6" y="255.3" font-size="8.7" text-anchor="middle" fill="#2a2a2a" font-weight="normal" textLength="10.7" lengthAdjust="spacingAndGlyphs" stroke="#2a2a2a" stroke-width="0.18">5:1</text>
<text x="306.0" y="255.3" font-size="8.7" text-anchor="middle" fill="#2a2a2a" font-weight="normal" textLength="17.9" lengthAdjust="spacingAndGlyphs" stroke="#2a2a2a" stroke-width="0.18">2.5:1</text>
<polyline points="272.90,232.05 289.60,228.89 306.00,228.57" fill="none" stroke="#0c2fae" stroke-width="1.6"/>
<circle cx="272.90" cy="232.05" r="2.35" fill="#0c2fae"/>
<circle cx="289.60" cy="228.89" r="2.35" fill="#0c2fae"/>
<circle cx="306.00" cy="228.57" r="2.35" fill="#0c2fae"/>
<polyline points="272.90,161.82 289.60,163.04 306.00,161.99" fill="none" stroke="#d0061e" stroke-width="1.6"/>
<path d="M270.50,159.82 L275.30,159.82 L272.90,164.32 Z" fill="#e76ab8" stroke="#d0061e" stroke-width="1.1" stroke-linejoin="round"/>
<path d="M287.20,161.04 L292.00,161.04 L289.60,165.54 Z" fill="#e76ab8" stroke="#d0061e" stroke-width="1.1" stroke-linejoin="round"/>
<path d="M303.60,159.99 L308.40,159.99 L306.00,164.49 Z" fill="#e76ab8" stroke="#d0061e" stroke-width="1.1" stroke-linejoin="round"/>
<path d="M338.8,162.0 V242.6 H390.0" fill="none" stroke="#111" stroke-width="1.3"/>
<path d="M335.3,242.60H338.8M335.3,226.58H338.8M335.3,210.56H338.8M335.3,194.54H338.8M335.3,178.52H338.8M335.3,162.50H338.8M347.30,242.6V245.6M364.80,242.6V245.6M382.40,242.6V245.6" stroke="#111" stroke-width="1" fill="none"/>
<text x="332.6" y="245.6" font-size="8.6" text-anchor="end" fill="#2a2a2a" font-weight="normal" textLength="4.4" lengthAdjust="spacingAndGlyphs" stroke="#2a2a2a" stroke-width="0.18">0</text>
<text x="332.6" y="229.58" font-size="8.6" text-anchor="end" fill="#2a2a2a" font-weight="normal" textLength="8.8" lengthAdjust="spacingAndGlyphs" stroke="#2a2a2a" stroke-width="0.18">20</text>
<text x="332.6" y="213.56" font-size="8.6" text-anchor="end" fill="#2a2a2a" font-weight="normal" textLength="8.8" lengthAdjust="spacingAndGlyphs" stroke="#2a2a2a" stroke-width="0.18">40</text>
<text x="332.6" y="197.54" font-size="8.6" text-anchor="end" fill="#2a2a2a" font-weight="normal" textLength="8.8" lengthAdjust="spacingAndGlyphs" stroke="#2a2a2a" stroke-width="0.18">60</text>
<text x="332.6" y="181.52" font-size="8.6" text-anchor="end" fill="#2a2a2a" font-weight="normal" textLength="8.8" lengthAdjust="spacingAndGlyphs" stroke="#2a2a2a" stroke-width="0.18">80</text>
<text x="332.6" y="165.5" font-size="8.6" text-anchor="end" fill="#2a2a2a" font-weight="normal" textLength="13.0" lengthAdjust="spacingAndGlyphs" stroke="#2a2a2a" stroke-width="0.18">100</text>
<text x="347.3" y="255.3" font-size="8.7" text-anchor="middle" fill="#2a2a2a" font-weight="normal" textLength="15.0" lengthAdjust="spacingAndGlyphs" stroke="#2a2a2a" stroke-width="0.18">10:1</text>
<text x="364.8" y="255.3" font-size="8.7" text-anchor="middle" fill="#2a2a2a" font-weight="normal" textLength="10.7" lengthAdjust="spacingAndGlyphs" stroke="#2a2a2a" stroke-width="0.18">5:1</text>
<text x="382.4" y="255.3" font-size="8.7" text-anchor="middle" fill="#2a2a2a" font-weight="normal" textLength="17.9" lengthAdjust="spacingAndGlyphs" stroke="#2a2a2a" stroke-width="0.18">2.5:1</text>
<polyline points="347.30,178.60 364.80,184.61 382.40,199.51" fill="none" stroke="#0c2fae" stroke-width="1.6"/>
<circle cx="347.30" cy="178.60" r="2.35" fill="#0c2fae"/>
<circle cx="364.80" cy="184.61" r="2.35" fill="#0c2fae"/>
<circle cx="382.40" cy="199.51" r="2.35" fill="#0c2fae"/>
<polyline points="347.30,168.67 364.80,166.99 382.40,170.43" fill="none" stroke="#d0061e" stroke-width="1.6"/>
<path d="M344.90,166.67 L349.70,166.67 L347.30,171.17 Z" fill="#e76ab8" stroke="#d0061e" stroke-width="1.1" stroke-linejoin="round"/>
<path d="M362.40,164.99 L367.20,164.99 L364.80,169.49 Z" fill="#e76ab8" stroke="#d0061e" stroke-width="1.1" stroke-linejoin="round"/>
<path d="M380.00,168.43 L384.80,168.43 L382.40,172.93 Z" fill="#e76ab8" stroke="#d0061e" stroke-width="1.1" stroke-linejoin="round"/>
<path d="M415.5,161.0 V242.6 H465.4" fill="none" stroke="#111" stroke-width="1.3"/>
<path d="M412.0,242.60H415.5M412.0,226.38H415.5M412.0,210.16H415.5M412.0,193.94H415.5M412.0,177.72H415.5M412.0,161.50H415.5M423.70,242.6V245.6M440.10,242.6V245.6M456.60,242.6V245.6" stroke="#111" stroke-width="1" fill="none"/>
<text x="409.3" y="245.6" font-size="8.6" text-anchor="end" fill="#2a2a2a" font-weight="normal" textLength="4.4" lengthAdjust="spacingAndGlyphs" stroke="#2a2a2a" stroke-width="0.18">0</text>
<text x="409.3" y="229.38" font-size="8.6" text-anchor="end" fill="#2a2a2a" font-weight="normal" textLength="8.8" lengthAdjust="spacingAndGlyphs" stroke="#2a2a2a" stroke-width="0.18">20</text>
<text x="409.3" y="213.16" font-size="8.6" text-anchor="end" fill="#2a2a2a" font-weight="normal" textLength="8.8" lengthAdjust="spacingAndGlyphs" stroke="#2a2a2a" stroke-width="0.18">40</text>
<text x="409.3" y="196.94" font-size="8.6" text-anchor="end" fill="#2a2a2a" font-weight="normal" textLength="8.8" lengthAdjust="spacingAndGlyphs" stroke="#2a2a2a" stroke-width="0.18">60</text>
<text x="409.3" y="180.72" font-size="8.6" text-anchor="end" fill="#2a2a2a" font-weight="normal" textLength="8.8" lengthAdjust="spacingAndGlyphs" stroke="#2a2a2a" stroke-width="0.18">80</text>
<text x="409.3" y="164.5" font-size="8.6" text-anchor="end" fill="#2a2a2a" font-weight="normal" textLength="13.0" lengthAdjust="spacingAndGlyphs" stroke="#2a2a2a" stroke-width="0.18">100</text>
<text x="423.7" y="255.3" font-size="8.7" text-anchor="middle" fill="#2a2a2a" font-weight="normal" textLength="15.0" lengthAdjust="spacingAndGlyphs" stroke="#2a2a2a" stroke-width="0.18">10:1</text>
<text x="440.1" y="255.3" font-size="8.7" text-anchor="middle" fill="#2a2a2a" font-weight="normal" textLength="10.7" lengthAdjust="spacingAndGlyphs" stroke="#2a2a2a" stroke-width="0.18">5:1</text>
<text x="456.6" y="255.3" font-size="8.7" text-anchor="middle" fill="#2a2a2a" font-weight="normal" textLength="17.9" lengthAdjust="spacingAndGlyphs" stroke="#2a2a2a" stroke-width="0.18">2.5:1</text>
<polyline points="423.70,201.24 440.10,238.14 456.60,242.60" fill="none" stroke="#0c2fae" stroke-width="1.6"/>
<circle cx="423.70" cy="201.24" r="2.35" fill="#0c2fae"/>
<circle cx="440.10" cy="238.14" r="2.35" fill="#0c2fae"/>
<circle cx="456.60" cy="242.60" r="2.35" fill="#0c2fae"/>
<polyline points="423.70,170.42 440.10,169.53 456.60,174.64" fill="none" stroke="#d0061e" stroke-width="1.6"/>
<path d="M421.30,168.42 L426.10,168.42 L423.70,172.92 Z" fill="#e76ab8" stroke="#d0061e" stroke-width="1.1" stroke-linejoin="round"/>
<path d="M437.70,167.53 L442.50,167.53 L440.10,172.03 Z" fill="#e76ab8" stroke="#d0061e" stroke-width="1.1" stroke-linejoin="round"/>
<path d="M454.20,172.64 L459.00,172.64 L456.60,177.14 Z" fill="#e76ab8" stroke="#d0061e" stroke-width="1.1" stroke-linejoin="round"/>
<text transform="translate(19.1,202.9) rotate(-90)" x="0" y="0" font-size="9.9" text-anchor="middle" fill="#3a3a3a" stroke="#3a3a3a" stroke-width="0.18" textLength="41.8" lengthAdjust="spacingAndGlyphs">Cell lysis (%)</text>
<text x="65" y="268" font-size="9.6" text-anchor="middle" fill="#444" font-weight="normal" textLength="26" lengthAdjust="spacingAndGlyphs" stroke="#444" stroke-width="0.18">E:T ratio</text>
<line x1="454" y1="204.2" x2="466.4" y2="204.2" stroke="#0c2fae" stroke-width="1.5"/>
<circle cx="460.2" cy="204.2" r="2.5" fill="#0c2fae"/>
<line x1="454" y1="213.8" x2="466.4" y2="213.8" stroke="#d0061e" stroke-width="1.5"/>
<path d="M457.6,211.6 L462.8,211.6 L460.2,216.2 Z" fill="#e76ab8" stroke="#d0061e" stroke-width="1.1" stroke-linejoin="round"/>
<text x="469.9" y="206.5" font-size="7.6" text-anchor="start" fill="#333" font-weight="normal" textLength="38" lengthAdjust="spacingAndGlyphs" stroke="#333" stroke-width="0.18">UTD T-cells</text>
<text x="469.9" y="216.1" font-size="7.6" text-anchor="start" fill="#333" font-weight="normal" textLength="42.7" lengthAdjust="spacingAndGlyphs" stroke="#333" stroke-width="0.18">Siglec-6_BBz</text>
<path d="M47.2,286.3 V438.5 H226.05" fill="none" stroke="#111" stroke-width="1.4"/>
<path d="M43.0,438.50H47.2M43.0,408.16H47.2M43.0,377.82H47.2M43.0,347.48H47.2M43.0,317.14H47.2M43.0,286.80H47.2M63.30,438.5V442.5M95.85,438.5V442.5M128.40,438.5V442.5M160.95,438.5V442.5M193.50,438.5V442.5M226.05,438.5V442.5" stroke="#111" stroke-width="1" fill="none"/>
<text x="40.9" y="441.5" font-size="8.8" text-anchor="end" fill="#2a2a2a" font-weight="normal" textLength="4.2" lengthAdjust="spacingAndGlyphs" stroke="#2a2a2a" stroke-width="0.18">0</text>
<text x="40.9" y="411.16" font-size="8.8" text-anchor="end" fill="#2a2a2a" font-weight="normal" textLength="8.3" lengthAdjust="spacingAndGlyphs" stroke="#2a2a2a" stroke-width="0.18">20</text>
<text x="40.9" y="380.82" font-size="8.8" text-anchor="end" fill="#2a2a2a" font-weight="normal" textLength="8.3" lengthAdjust="spacingAndGlyphs" stroke="#2a2a2a" stroke-width="0.18">40</text>
<text x="40.9" y="350.48" font-size="8.8" text-anchor="end" fill="#2a2a2a" font-weight="normal" textLength="8.3" lengthAdjust="spacingAndGlyphs" stroke="#2a2a2a" stroke-width="0.18">60</text>
<text x="40.9" y="320.14" font-size="8.8" text-anchor="end" fill="#2a2a2a" font-weight="normal" textLength="8.3" lengthAdjust="spacingAndGlyphs" stroke="#2a2a2a" stroke-width="0.18">80</text>
<text x="40.9" y="289.8" font-size="8.8" text-anchor="end" fill="#2a2a2a" font-weight="normal" textLength="12.3" lengthAdjust="spacingAndGlyphs" stroke="#2a2a2a" stroke-width="0.18">100</text>
<text x="63.3" y="451.4" font-size="8.8" text-anchor="middle" fill="#2a2a2a" font-weight="normal" stroke="#2a2a2a" stroke-width="0.18">1</text>
<text x="95.85" y="451.4" font-size="8.8" text-anchor="middle" fill="#2a2a2a" font-weight="normal" stroke="#2a2a2a" stroke-width="0.18">2</text>
<text x="128.4" y="451.4" font-size="8.8" text-anchor="middle" fill="#2a2a2a" font-weight="normal" stroke="#2a2a2a" stroke-width="0.18">3</text>
<text x="160.95" y="451.4" font-size="8.8" text-anchor="middle" fill="#2a2a2a" font-weight="normal" stroke="#2a2a2a" stroke-width="0.18">4</text>
<text x="193.5" y="451.4" font-size="8.8" text-anchor="middle" fill="#2a2a2a" font-weight="normal" stroke="#2a2a2a" stroke-width="0.18">5</text>
<text x="226.05" y="451.4" font-size="8.8" text-anchor="middle" fill="#2a2a2a" font-weight="normal" stroke="#2a2a2a" stroke-width="0.18">6</text>
<line x1="63.4" y1="286.5" x2="63.4" y2="438.5" stroke="#111" stroke-width="1" stroke-dasharray="3.2,1.7"/>
<line x1="59.6" y1="415.2" x2="196.4" y2="286.7" stroke="#111" stroke-width="1.7" stroke-linecap="round"/>
<circle cx="85.4" cy="297.6" r="2.3" fill="#e76ab8" stroke="#d0061e" stroke-width="1.1"/>
<circle cx="139.6" cy="291.2" r="2.3" fill="#e76ab8" stroke="#d0061e" stroke-width="1.1"/>
<circle cx="219.3" cy="300.4" r="2.3" fill="#e76ab8" stroke="#d0061e" stroke-width="1.1"/>
<circle cx="100.4" cy="333.8" r="2.3" fill="#e76ab8" stroke="#d0061e" stroke-width="1.1"/>
<circle cx="65.3" cy="350.5" r="2.3" fill="#e76ab8" stroke="#d0061e" stroke-width="1.1"/>
<circle cx="87.6" cy="358.2" r="2.3" fill="#e76ab8" stroke="#d0061e" stroke-width="1.1"/>
<circle cx="94.7" cy="356.6" r="2.3" fill="#e76ab8" stroke="#d0061e" stroke-width="1.1"/>
<circle cx="70.4" cy="403.4" r="2.3" fill="#e76ab8" stroke="#d0061e" stroke-width="1.1"/>
<circle cx="74.5" cy="400.8" r="2.3" fill="#e76ab8" stroke="#d0061e" stroke-width="1.1"/>
<circle cx="111.2" cy="410" r="2.3" fill="#e76ab8" stroke="#d0061e" stroke-width="1.1"/>
<circle cx="59.7" cy="420.6" r="2.3" fill="#e76ab8" stroke="#d0061e" stroke-width="1.1"/>
<circle cx="67.1" cy="419" r="2.3" fill="#e76ab8" stroke="#d0061e" stroke-width="1.1"/>
<circle cx="64.5" cy="428" r="2.3" fill="#e76ab8" stroke="#d0061e" stroke-width="1.1"/>
<circle cx="66.6" cy="438.9" r="2.3" fill="#e76ab8" stroke="#d0061e" stroke-width="1.1"/>
<circle cx="69.7" cy="437.1" r="2.3" fill="#e76ab8" stroke="#d0061e" stroke-width="1.1"/>
<circle cx="72.9" cy="437.1" r="2.3" fill="#e76ab8" stroke="#d0061e" stroke-width="1.1"/>
<circle cx="75.7" cy="438.7" r="2.3" fill="#e76ab8" stroke="#d0061e" stroke-width="1.1"/>
<text x="90.1" y="300.0" font-size="8.2" text-anchor="start" fill="#3050c4" font-weight="normal" textLength="7.7" lengthAdjust="spacingAndGlyphs" stroke="none">14</text>
<text x="144.2" y="293.9" font-size="8.2" text-anchor="start" fill="#3050c4" font-weight="normal" stroke="none">2</text>
<text x="224.2" y="303.0" font-size="8.2" text-anchor="start" fill="#3050c4" font-weight="normal" textLength="8.0" lengthAdjust="spacingAndGlyphs" stroke="none">10</text>
<text x="104.5" y="336.5" font-size="8.2" text-anchor="start" fill="#3050c4" font-weight="normal" stroke="none">5</text>
<text x="70.4" y="353.2" font-size="8.2" text-anchor="start" fill="#3050c4" font-weight="normal" textLength="8.0" lengthAdjust="spacingAndGlyphs" stroke="none">13</text>
<text x="85.9" y="353.5" font-size="8.2" text-anchor="start" fill="#3050c4" font-weight="normal" stroke="none">1</text>
<text x="98.8" y="359.0" font-size="8.2" text-anchor="start" fill="#3050c4" font-weight="normal" textLength="8.0" lengthAdjust="spacingAndGlyphs" stroke="none">21</text>
<text x="68" y="399.9" font-size="8.2" text-anchor="start" fill="#3050c4" font-weight="normal" stroke="none">3</text>
<text x="73.2" y="396.2" font-size="8.2" text-anchor="start" fill="#3050c4" font-weight="normal" stroke="none">7</text>
<text x="115.8" y="412.7" font-size="8.2" text-anchor="start" fill="#3050c4" font-weight="normal" textLength="7.3" lengthAdjust="spacingAndGlyphs" stroke="none">11</text>
<text x="49.2" y="423.1" font-size="8.2" text-anchor="start" fill="#3050c4" font-weight="normal" textLength="7.3" lengthAdjust="spacingAndGlyphs" stroke="none">17</text>
<text x="71.1" y="421.7" font-size="8.2" text-anchor="start" fill="#3050c4" font-weight="normal" textLength="8.3" lengthAdjust="spacingAndGlyphs" stroke="none">20</text>
<text x="68.7" y="430.7" font-size="8.2" text-anchor="start" fill="#3050c4" font-weight="normal" stroke="none">9</text>
<text x="56" y="441.9" font-size="8.2" text-anchor="start" fill="#3050c4" font-weight="normal" textLength="7.7" lengthAdjust="spacingAndGlyphs" stroke="none">12</text>
<text x="64.5" y="436.1" font-size="8.2" text-anchor="start" fill="#3050c4" font-weight="normal" textLength="16.6" lengthAdjust="spacingAndGlyphs" stroke="none">1819</text>
<text x="79.2" y="441.8" font-size="8.2" text-anchor="start" fill="#3050c4" font-weight="normal" stroke="none">6</text>
<text x="64" y="448.0" font-size="8.2" text-anchor="start" fill="#3050c4" font-weight="normal" textLength="16.0" lengthAdjust="spacingAndGlyphs" stroke="none">2316</text>
<text transform="translate(21.6,362.6) rotate(-90)" x="0" y="0" font-size="10" text-anchor="middle" fill="#3a3a3a" stroke="#3a3a3a" stroke-width="0.18" textLength="56" lengthAdjust="spacingAndGlyphs">Specific lysis (%)</text>
<text x="110.5" y="465.2" font-size="9.9" text-anchor="start" fill="#444" font-weight="normal" textLength="52.5" lengthAdjust="spacingAndGlyphs" stroke="#444" stroke-width="0.18">Siglec-6 (NMFI)</text>
</svg>
</body></html>
